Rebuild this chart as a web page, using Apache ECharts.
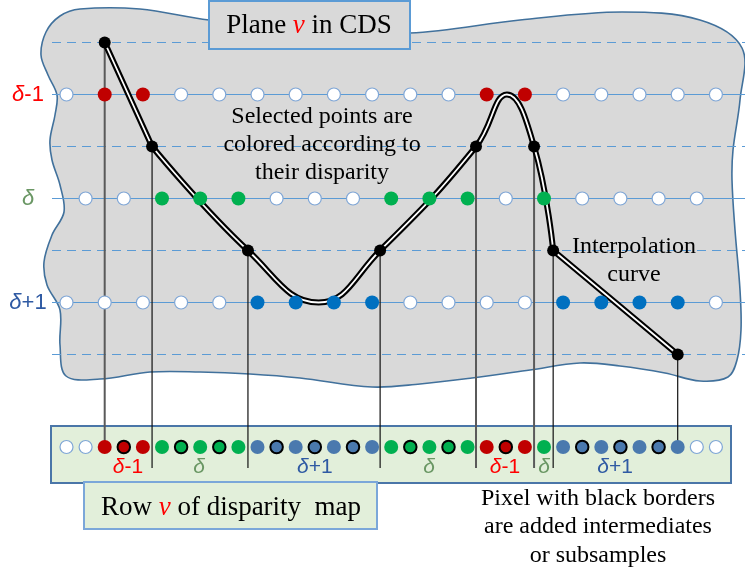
<!DOCTYPE html>
<html><head><meta charset="utf-8">
<script src="https://cdn.jsdelivr.net/npm/echarts@6/dist/echarts.min.js"></script>
<style>html,body{margin:0;padding:0;background:#fff}#c{width:745px;height:572px}</style>
</head><body><div id="c"></div>
<script>
// ---------------- data ----------------
const rowLabels = ['δ-1', 'δ', 'δ+1'];
const rowLevels = [-1, 0, 1];
const dashedLevels = [-1.5, -0.5, 0.5, 1.5];
// samples along each row of the plane (1 = selected, coloured by disparity)
const rowMinus1Sel = [0,1,1,0,0,0,0,0,0,0,0,1,1,0,0,0,0,0];   // columns 0..17
const rowZeroSel   = [0,0,1,1,1,0,0,0,1,1,1,0,1,0,0,0,0];     // columns 0.5..16.5
const rowPlus1Sel  = [0,0,0,0,0,1,1,1,1,0,0,0,0,1,1,1,1,0];   // columns 0..17
// interpolation curve knots (column, disparity)
const knotX = [1.0, 2.24, 4.75, 8.21, 10.72, 12.24, 12.74, 16.0];
const knotY = [-1.5, -0.5, 0.5, 0.5, -0.5, -0.5, 0.5, 1.5];
const troughPt = [6.6, 1.0];
const peakPt = [11.53, -1.0];
// knots whose drop line ends on a pixel of the row
const dropToPixel = [1,0,0,0,0,0,0,1];
// row v of the disparity map: 35 pixels at half-column spacing
// w = empty, R/G/B = sample, r/g/b = added intermediate / subsample
const stripPixels = ['w','w','R','r','R','G','g','G','g','G','B','b','B','b','B','b','B','G','g','G','g','G','R','r','R','G','B','b','B','b','B','b','B','w','w'];
const stripLabels = ['δ-1','δ','δ+1','δ','δ-1','δ','δ+1'];
const stripLabelX = [1.61, 3.47, 6.5, 9.49, 11.48, 12.5, 14.36];

// ---------------- layout ----------------
const X0 = 66.5, XS = 38.2, Y0 = 198.5, YS = 104;
const toY = py => (py - Y0) / YS;
const toX = px => (px - X0) / XS;
const xMin = toX(0), xMax = toX(745);
const lineStartX = toX(52);
const stripY = toY(447), dropBottom = toY(468), stripLabelY = toY(467);
const rowLabelX = toX(28);

const RED = '#c00000', GREEN = '#00b050', BLUE_ROW = '#0070c0', BLUE_STRIP = '#4a79ae';
const labelColor = {'δ-1':'#ff0000', 'δ':'#6a9764', 'δ+1':'#2f5aa3'};
const SERIF = '"Liberation Serif","Times New Roman",serif';
const SANS = '"Liberation Sans",Arial,sans-serif';

function whiteDot(v){ return {value:v, symbolSize:13, itemStyle:{color:'#fff', borderColor:'#7fa6d6', borderWidth:1.2, opacity:1}}; }
function fillDot(v,c){ return {value:v, symbolSize:14, itemStyle:{color:c, borderWidth:0, opacity:1}}; }
function ringDot(v,c){ return {value:v, symbolSize:12.5, itemStyle:{color:c, borderColor:'#000', borderWidth:2, opacity:1}}; }

const rowDots = [];
rowMinus1Sel.forEach((s,i)=>rowDots.push(s ? fillDot([i,-1],RED) : whiteDot([i,-1])));
rowZeroSel.forEach((s,i)=>rowDots.push(s ? fillDot([i+0.5,0],GREEN) : whiteDot([i+0.5,0])));
rowPlus1Sel.forEach((s,i)=>rowDots.push(s ? fillDot([i,1],BLUE_ROW) : whiteDot([i,1])));

const stripCol = {R:RED, G:GREEN, B:BLUE_STRIP};
const stripDots = stripPixels.map((c,k)=>{
  const v=[k*0.5, stripY];
  if (c==='w') return whiteDot(v);
  if (c===c.toUpperCase()) return fillDot(v, stripCol[c]);
  return ringDot(v, stripCol[c.toUpperCase()]);
});

const knots = knotX.map((x,i)=>[x, knotY[i]]);
const curveA = [knots[0], knots[1]];
const curveB = [knots[1], knots[2], troughPt, knots[3], knots[4], peakPt, knots[5], knots[6]];
const curveC = [knots[6], knots[7]];

function curveSeries(data, smooth, color, width, z){
  return {type:'line', data, smooth, symbol:'none', silent:true, clip:false, z,
    lineStyle:{color, width, cap:'round', join:'round', opacity:1}};
}

function richLabel(t, size){
  return {
    text: '{d|' + t[0] + '}{n|' + t.slice(1) + '}',
    rich: {
      d: {font: 'italic ' + size + 'px ' + SANS, fill: labelColor[t], color: labelColor[t]},
      n: {font: size + 'px ' + SANS, fill: labelColor[t], color: labelColor[t]}
    }
  };
}

function hLineSeries(levels, dashed){
  return {type:'custom', coordinateSystem:'cartesian2d', clip:false, silent:true, z:2,
    data: levels.map(l=>[lineStartX, l]),
    encode:{x:0,y:1},
    renderItem(params, api){
      const p1 = api.coord([api.value(0), api.value(1)]);
      const p2 = api.coord([xMax, api.value(1)]);
      return {type:'line', shape:{x1:p1[0],y1:p1[1],x2:p2[0],y2:p2[1]},
        style:{stroke:'#5b9bd5', lineWidth:1.2, lineDash: dashed?[9,6]:null}};
    }};
}

const blob = [[80,9],[140,9],[209,20],[300,27],[410,33],[520,20],[622,12],[700,20],[742,48],[740,100],[733,150],[732,180],[735,230],[740,290],[741,330],[737,360],[728,377],[700,381],[665,373],[620,366],[580,363],[530,370],[472,378],[420,384],[372,387],[300,378],[250,374],[200,372],[150,372],[100,379],[66,376],[60,345],[60,310],[47,285],[44,262],[52,235],[64,212],[60,185],[52,160],[50,140],[55,115],[57,95],[48,75],[41,55],[46,32],[60,16]];

const chart = echarts.init(document.getElementById('c'), null, {renderer:'canvas'});
chart.setOption({
  animation:false,
  grid:{left:0, top:0, right:0, bottom:0},
  xAxis:{type:'value', min:xMin, max:xMax, show:false},
  yAxis:{type:'value', min:toY(0), max:toY(572), inverse:true, show:false},
  graphic:[
    {type:'polygon', z:-10, shape:{points:blob, smooth:0.35}, style:{fill:'#d9d9d9', stroke:'#41719c', lineWidth:1.6}},
    {type:'rect', z:-5, shape:{x:51, y:426, width:680, height:57}, style:{fill:'#e2efda', stroke:'#4a76a8', lineWidth:2}},
    {type:'rect', z:100, shape:{x:209, y:1, width:201, height:48}, style:{fill:'#d9d9d9', stroke:'#5b9bd5', lineWidth:2}},
    {type:'text', z:101, x:309, y:26, style:{text:'Plane {v|v} in CDS', font:'27px '+SERIF, fill:'#000', align:'center', verticalAlign:'middle',
      rich:{v:{font:'italic 27px '+SERIF, fill:'#ff0000', color:'#ff0000'}}}},
    {type:'rect', z:100, shape:{x:84, y:482, width:293, height:47}, style:{fill:'#e2efda', stroke:'#7ba7d9', lineWidth:2}},
    {type:'text', z:101, x:231, y:508, style:{text:'Row {v|v} of disparity  map', font:'27px '+SERIF, fill:'#000', align:'center', verticalAlign:'middle',
      rich:{v:{font:'italic 27px '+SERIF, fill:'#ff0000', color:'#ff0000'}}}},
    {type:'text', z:50, x:322, y:103, style:{text:'Selected points are\ncolored according to\ntheir disparity', font:'24px '+SERIF, lineHeight:28, fill:'#000', align:'center', verticalAlign:'top'}},
    {type:'text', z:50, x:634, y:233, style:{text:'Interpolation\ncurve', font:'24px '+SERIF, lineHeight:28, fill:'#000', align:'center', verticalAlign:'top'}},
    {type:'text', z:50, x:598, y:484, style:{text:'Pixel with black borders\nare added intermediates\nor subsamples', font:'24px '+SERIF, lineHeight:28.5, fill:'#000', align:'center', verticalAlign:'top'}}
  ],
  series:[
    hLineSeries(dashedLevels, true),
    hLineSeries(rowLevels, false),
    {type:'custom', coordinateSystem:'cartesian2d', clip:false, silent:true, z:3,
      data: knots.map((k,i)=>[k[0], k[1], dropToPixel[i] ? stripY : dropBottom, i]),
      encode:{x:0,y:1},
      renderItem(params, api){
        const i = api.value(3);
        const p1 = api.coord([api.value(0), api.value(1)]);
        const p2 = api.coord([api.value(0), api.value(2)]);
        const heavy = (i===0 || i===4 || i===5);
        return {type:'line', shape:{x1:p1[0],y1:p1[1],x2:p2[0],y2:p2[1]},
          style:{stroke: heavy ? '#5a5a5a' : '#111', lineWidth: heavy ? 2 : 1.2}};
      }},
    curveSeries(curveA, false, '#000', 6, 4),
    curveSeries(curveB, 0.45, '#000', 6, 4),
    curveSeries(curveC, false, '#000', 6, 4),
    curveSeries(curveA, false, '#fff', 1.8, 5),
    curveSeries(curveB, 0.45, '#fff', 1.8, 5),
    curveSeries(curveC, false, '#fff', 1.8, 5),
    {type:'scatter', data: rowDots, symbol:'circle', silent:true, clip:false, z:6, itemStyle:{opacity:1}},
    {type:'scatter', data: stripDots, symbol:'circle', silent:true, clip:false, z:6, itemStyle:{opacity:1}},
    {type:'scatter', data: knots, symbol:'circle', symbolSize:12, silent:true, clip:false, z:7, itemStyle:{color:'#000', opacity:1}},
    {type:'custom', coordinateSystem:'cartesian2d', clip:false, silent:true, z:8,
      data: rowLabels.map((t,i)=>[rowLabelX, rowLevels[i], i]),
      encode:{x:0,y:1},
      renderItem(params, api){
        const p = api.coord([api.value(0), api.value(1)]);
        const t = rowLabels[api.value(2)];
        const r = richLabel(t, 22);
        return {type:'text', x:p[0], y:p[1], style:{text:r.text, rich:r.rich, align:'center', verticalAlign:'middle'}};
      }},
    {type:'custom', coordinateSystem:'cartesian2d', clip:false, silent:true, z:8,
      data: stripLabels.map((t,i)=>[stripLabelX[i], stripLabelY, i]),
      encode:{x:0,y:1},
      renderItem(params, api){
        const p = api.coord([api.value(0), api.value(1)]);
        const t = stripLabels[api.value(2)];
        const r = richLabel(t, 21);
        return {type:'text', x:p[0], y:p[1], style:{text:r.text, rich:r.rich, align:'center', verticalAlign:'middle'}};
      }}
  ]
});
</script></body></html>
